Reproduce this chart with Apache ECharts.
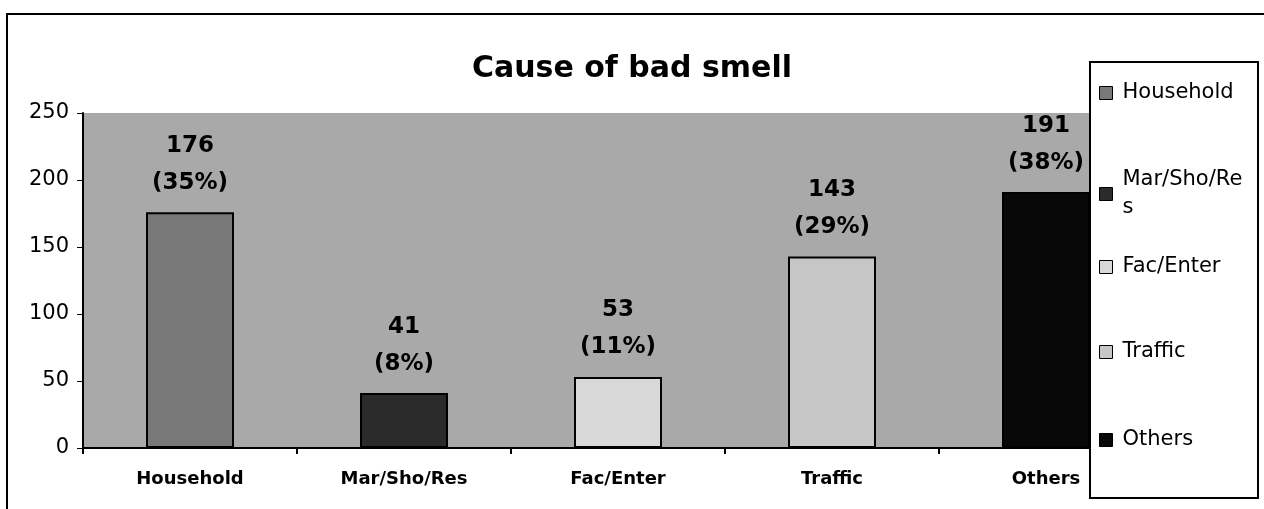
<!DOCTYPE html>
<html>
<head>
<meta charset="utf-8">
<title>Cause of bad smell</title>
<script src="https://cdn.jsdelivr.net/npm/echarts@6/dist/echarts.min.js"></script>
<style>
  html, body { margin: 0; padding: 0; background: #fff; }
  #chart { width: 1264px; height: 509px; }
</style>
</head>
<body>
<div id="chart"></div>
<script>
// data
const categories = ["Household", "Mar/Sho/Res", "Fac/Enter", "Traffic", "Others"];
const counts = [176, 41, 53, 143, 191];
const percents = ["35%", "8%", "11%", "29%", "38%"];
const yMin = 0, yMax = 250, yStep = 50;

// look
const font = "DejaVu Sans";
const barFill = ["#787878", "#2b2b2b", "#d8d8d8", "#c6c6c6", "#080808"];
const legendTops = [79, 166, 253, 338, 426];

let chart = echarts.init(document.getElementById("chart"));

// one series per cause so each gets its own legend entry
let series = categories.map((name, i) => ({
  name: name,
  type: "bar",
  barWidth: 88,
  barGap: "-100%",
  data: categories.map((c, j) => (j === i ? counts[i] : "-")),
  itemStyle: { color: barFill[i], borderColor: "#000", borderWidth: 2 },
  label: {
    show: true,
    position: "top",
    distance: 11,
    formatter: (p) => p.value + "\n(" + percents[p.dataIndex] + ")",
    fontFamily: font,
    fontWeight: "bold",
    fontSize: 23,
    lineHeight: 37,
    color: "#000",
  },
}));

let legends = categories.map((name, i) => ({
  data: [name],
  orient: "vertical",
  left: 1099,
  top: legendTops[i],
  padding: 0,
  z: 110,
  icon: "rect",
  itemWidth: 13,
  itemHeight: 13,
  itemStyle: { borderColor: "#000", borderWidth: 1 },
  selectedMode: false,
  textStyle: {
    fontFamily: font,
    fontSize: 21,
    color: "#000",
    width: 125,
    overflow: "breakAll",
    lineHeight: 28,
    padding: [0, 0, 0, 5],
  },
}));

let option = {
  animation: false,
  backgroundColor: "#fff",
  title: {
    text: "Cause of bad smell",
    left: "center",
    top: 49,
    textStyle: { fontFamily: font, fontWeight: "bold", fontSize: 30, color: "#000" },
  },
  grid: {
    left: 83,
    right: 111,
    top: 113,
    bottom: 61,
    show: true,
    backgroundColor: "#a9a9a9",
    borderWidth: 0,
  },
  xAxis: {
    type: "category",
    data: categories,
    axisLine: { lineStyle: { color: "#000", width: 2 } },
    axisTick: { show: true, length: 6, lineStyle: { color: "#000", width: 2 } },
    axisLabel: {
      color: "#000",
      fontFamily: font,
      fontWeight: "bold",
      fontSize: 18,
      margin: 22,
    },
  },
  yAxis: {
    type: "value",
    min: yMin,
    max: yMax,
    interval: yStep,
    axisLine: { show: true, lineStyle: { color: "#000", width: 2 } },
    axisTick: { show: true, length: 6, lineStyle: { color: "#000" } },
    splitLine: { show: false },
    axisLabel: { color: "#000", fontFamily: font, fontSize: 21, margin: 14 },
  },
  legend: legends,
  graphic: [
    {
      type: "polyline",
      shape: { points: [[7, 509], [7, 14], [1264, 14]] },
      style: { stroke: "#000", lineWidth: 2, fill: null },
      z: 100,
    },
    {
      type: "rect",
      shape: { x: 1090, y: 62, width: 168, height: 436 },
      style: { fill: "#fff", stroke: "#000", lineWidth: 2 },
      z: 100,
    },
  ],
  series: series,
};

chart.setOption(option);
</script>
</body>
</html>
